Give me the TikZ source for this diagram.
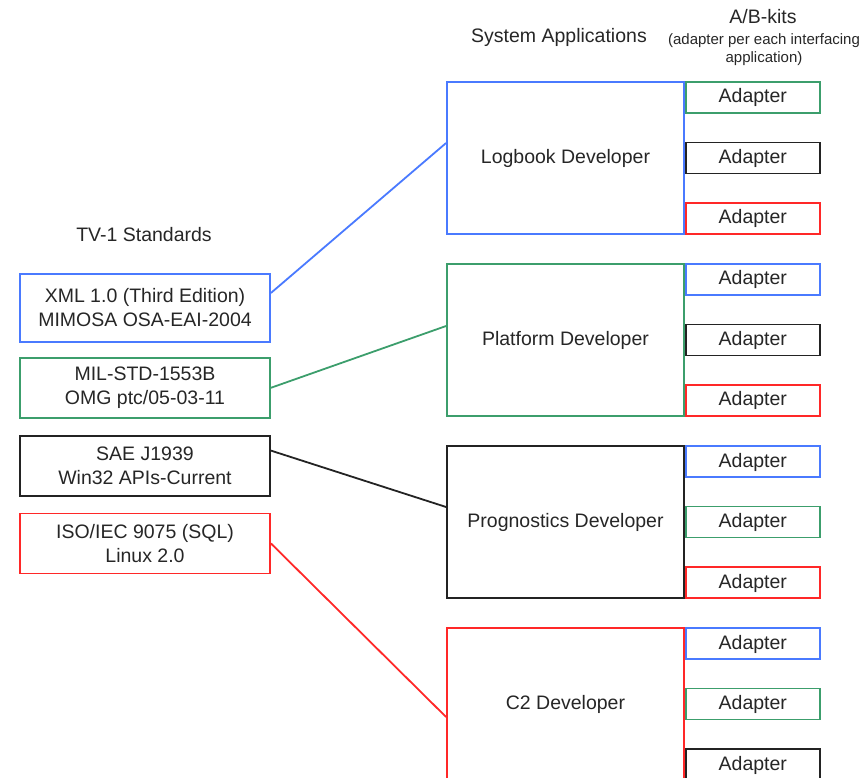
\documentclass[tikz,border=0pt]{standalone}
\usepackage{fontspec}
\setmainfont{Liberation Sans}
\usetikzlibrary{positioning}
\definecolor{stdblue}{RGB}{74,122,255}
\definecolor{stdgreen}{RGB}{60,158,108}
\definecolor{stdred}{RGB}{255,40,40}
\definecolor{stdblack}{RGB}{35,35,35}

\begin{document}
\begin{tikzpicture}[x=1pt, y=1pt, line width=1.8pt,
		every node/.style={font=\fontsize{19.5}{24}\selectfont, text=black!85},
		standard/.style={rectangle, draw, minimum width=250pt, minimum height=60pt, align=center, inner sep=0pt},
		developer/.style={rectangle, draw, minimum width=237pt, minimum height=152pt},
		adapter/.style={rectangle, draw, fill=white, minimum width=134pt, minimum height=31pt, inner sep=0pt, text height=14pt, text depth=3pt}]
	\useasboundingbox (0,0) rectangle (863,-778);
	\clip (0,0) rectangle (863,-778);
	
	\node (apps) at (559,-37) {System Applications};
	\node (kits) at (763,-17) {A/B-kits};
	\node[font=\fontsize{15}{18}\selectfont, align=center] (kitsnote) at (764,-50) {(adapter per each interfacing\\application)};
	\node (tv) at (144,-235) {TV-1 Standards};
	
	\node[standard, draw=stdblue, minimum height=68pt] (xml) at (145,-308) {XML 1.0 (Third Edition)\\MIMOSA OSA-EAI-2004};
	\node[standard, draw=stdgreen, below=14pt of xml] (mil) {MIL-STD-1553B\\OMG ptc/05-03-11};
	\node[standard, draw=stdblack, below=16pt of mil] (sae) {SAE J1939\\Win32 APIs-Current};
	\node[standard, draw=stdred, below=16pt of sae] (iso) {ISO/IEC 9075 (SQL)\\Linux 2.0};
	
	\node[developer, draw=stdblue] (log) at (565.5,-158) {Logbook Developer};
	\node[developer, draw=stdgreen] (plat) at (565.5,-340) {Platform Developer};
	\node[developer, draw=stdblack] (prog) at (565.5,-522) {Prognostics Developer};
	\node[developer, draw=stdred] (ctwo) at (565.5,-704) {C2 Developer};
	
	\node[adapter, draw=stdgreen, anchor=north west] (log a1) at (log.north east) {Adapter};
	\node[adapter, draw=stdblack, anchor=west] (log a2) at (log.east) {Adapter};
	\node[adapter, draw=stdred, anchor=south west] (log a3) at (log.south east) {Adapter};
	
	\node[adapter, draw=stdblue, anchor=north west] (plat a1) at (plat.north east) {Adapter};
	\node[adapter, draw=stdblack, anchor=west] (plat a2) at (plat.east) {Adapter};
	\node[adapter, draw=stdred, anchor=south west] (plat a3) at (plat.south east) {Adapter};
	
	\node[adapter, draw=stdblue, anchor=north west] (prog a1) at (prog.north east) {Adapter};
	\node[adapter, draw=stdgreen, anchor=west] (prog a2) at (prog.east) {Adapter};
	\node[adapter, draw=stdred, anchor=south west] (prog a3) at (prog.south east) {Adapter};
	
	\node[adapter, draw=stdblue, anchor=north west] (ctwo a1) at (ctwo.north east) {Adapter};
	\node[adapter, draw=stdgreen, anchor=west] (ctwo a2) at (ctwo.east) {Adapter};
	\node[adapter, draw=stdblack, anchor=south west] (ctwo a3) at (ctwo.south east) {Adapter};
	
	\draw[stdblue] ([yshift=15pt]xml.east) -- ([yshift=15pt]log.west);
	\draw[stdgreen] (mil.east) -- ([yshift=14pt]plat.west);
	\draw[stdblack] ([yshift=15pt]sae.east) -- ([yshift=15pt]prog.west);
	\draw[stdred] (iso.east) -- ([yshift=-13pt]ctwo.west);
\end{tikzpicture}
\end{document}
